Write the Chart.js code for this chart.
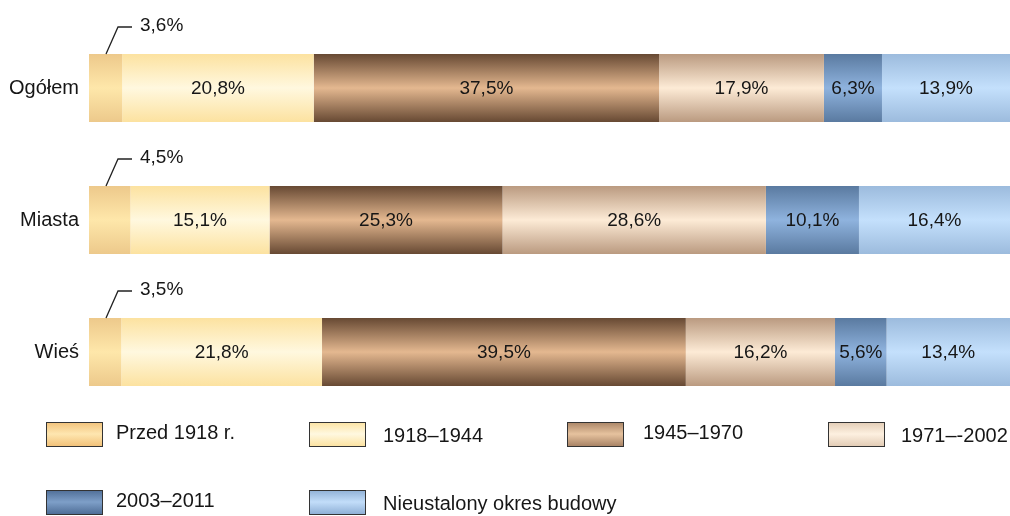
<!DOCTYPE html>
<html lang="pl">
<head>
    <meta charset="UTF-8">
    <title>Okres budowy mieszkań</title>
    <script src="https://cdn.jsdelivr.net/npm/chart.js"></script>
    <style>
        html, body { margin: 0; padding: 0; background: #fff; }
        .wrap { width: 1010px; height: 516px; position: relative; }
    </style>
</head>
<body>
    <div class="wrap"><canvas id="wykres"></canvas></div>
    <script>
        // dane
        const kategorie = ['Ogółem', 'Miasta', 'Wieś'];
        const okresy = ['Przed 1918 r.', '1918–1944', '1945–1970', '1971–-2002', '2003–2011', 'Nieustalony okres budowy'];
        const przed1918 = [3.6, 4.5, 3.5];
        const lata1918_1944 = [20.8, 15.1, 21.8];
        const lata1945_1970 = [37.5, 25.3, 39.5];
        const lata1971_2002 = [17.9, 28.6, 16.2];
        const lata2003_2011 = [6.3, 10.1, 5.6];
        const nieustalony = [13.9, 16.4, 13.4];

        // kolory: [brzeg, środek]
        const kolory = [
            ['#EDC98B', '#FEE7AA'],
            ['#FCE2A0', '#FFF8DF'],
            ['#674933', '#E4B890'],
            ['#BA9A80', '#FDEBD6'],
            ['#5A7AA0', '#8FB3DE'],
            ['#9CBBDD', '#C4E0FC']
        ];
        const koloryLegendy = [
            ['#F2C27A', '#FEE6B0'],
            ['#FCE3A2', '#FFF8E0'],
            ['#A98466', '#E6C29E'],
            ['#E3CDB6', '#FDF0E0'],
            ['#4F6E97', '#7E9FC8'],
            ['#8FB0D6', '#C2DDF9']
        ];

        const serie = [przed1918, lata1918_1944, lata1945_1970, lata1971_2002, lata2003_2011, nieustalony];
        const fmt = v => v.toFixed(1).replace('.', ',') + '%';

        function gradient(c, top, bottom, para) {
            const g = c.createLinearGradient(0, top, 0, bottom);
            g.addColorStop(0, para[0]);
            g.addColorStop(0.5, para[1]);
            g.addColorStop(1, para[0]);
            return g;
        }

        const etykiety = {
            id: 'etykiety',
            afterDatasetsDraw(chart) {
                const c = chart.ctx;
                c.save();
                c.font = '19px "Liberation Sans", Arial, sans-serif';
                c.fillStyle = '#161616';
                c.textBaseline = 'middle';
                chart.data.datasets.forEach((ds, i) => {
                    chart.getDatasetMeta(i).data.forEach((bar, j) => {
                        const v = ds.data[j];
                        if (i === 0) {
                            const top = bar.y - bar.height / 2;
                            const x0 = chart.scales.x.getPixelForValue(0) + 17;
                            c.strokeStyle = '#222';
                            c.lineWidth = 1.3;
                            c.beginPath();
                            c.moveTo(x0, top);
                            c.lineTo(x0 + 12, top - 27);
                            c.lineTo(x0 + 26, top - 27);
                            c.stroke();
                            c.textAlign = 'left';
                            c.fillText(fmt(v), x0 + 34, top - 28);
                        } else {
                            c.textAlign = 'center';
                            c.fillText(fmt(v), (bar.x + bar.base) / 2, bar.y + 1);
                        }
                    });
                });
                c.restore();
            }
        };

        const legenda = {
            id: 'legenda',
            afterDraw(chart) {
                const c = chart.ctx;
                const kolX = [46, 309, 567, 828];
                const tekstX = [116, 383, 643, 901];
                const wierszY = [422, 490];
                c.save();
                c.font = '20px "Liberation Sans", Arial, sans-serif';
                c.textBaseline = 'middle';
                c.textAlign = 'left';
                okresy.forEach((nazwa, i) => {
                    const k = i % 4;
                    const y = wierszY[Math.floor(i / 4)];
                    c.fillStyle = gradient(c, y, y + 24, koloryLegendy[i]);
                    c.fillRect(kolX[k], y, 56, 24);
                    c.strokeStyle = '#333';
                    c.lineWidth = 1;
                    c.strokeRect(kolX[k] + 0.5, y + 0.5, 56, 24);
                    c.fillStyle = '#161616';
                    c.fillText(nazwa, tekstX[k], y + (k % 2 ? 14 : 11));
                });
                c.restore();
            }
        };

        new Chart(document.getElementById('wykres'), {
            type: 'bar',
            data: {
                labels: kategorie,
                datasets: serie.map((dane, i) => ({
                    label: okresy[i],
                    data: dane,
                    borderWidth: 0,
                    backgroundColor: (ctx) => {
                        const ch = ctx.chart;
                        if (!ch.chartArea || ctx.dataIndex === undefined) return kolory[i][0];
                        const y = ch.scales.y.getPixelForValue(ctx.dataIndex);
                        return gradient(ch.ctx, y - 34, y + 34, kolory[i]);
                    }
                }))
            },
            options: {
                indexAxis: 'y',
                responsive: true,
                maintainAspectRatio: false,
                animation: false,
                layout: { padding: { top: 20, bottom: 98, left: 0, right: 0 } },
                datasets: { bar: { categoryPercentage: 1, barPercentage: 0.515 } },
                scales: {
                    x: { stacked: true, min: 0, max: 100, display: false },
                    y: {
                        stacked: true,
                        grid: { display: false, drawTicks: false },
                        border: { display: false },
                        afterFit: (s) => { s.width = 89; },
                        ticks: {
                            padding: 10,
                            color: '#161616',
                            font: { family: '"Liberation Sans", Arial, sans-serif', size: 20 }
                        }
                    }
                },
                plugins: {
                    legend: { display: false },
                    tooltip: { enabled: false }
                }
            },
            plugins: [etykiety, legenda]
        });
    </script>
</body>
</html>
